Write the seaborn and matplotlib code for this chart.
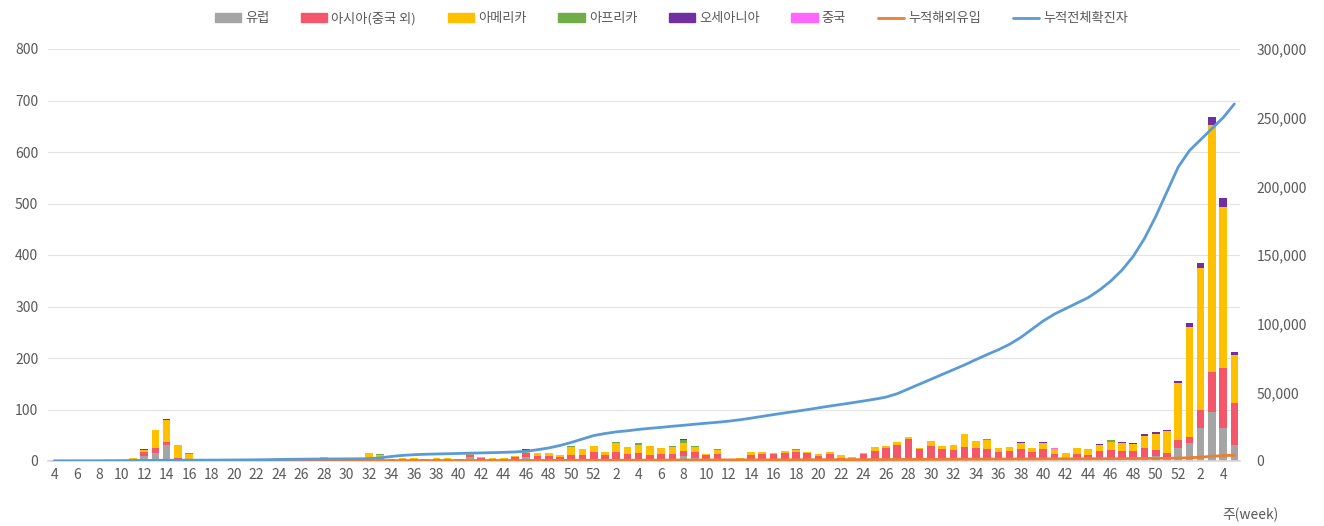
import numpy as np
import pandas as pd
import matplotlib
matplotlib.use("Agg")
import matplotlib.pyplot as plt
import seaborn as sns
from matplotlib.patches import Patch
from matplotlib.lines import Line2D
from matplotlib.ticker import FuncFormatter

# 주차 (2020년 4주 ~ 2022년 5주)
weeks = list(range(4, 53)) + list(range(1, 53)) + list(range(1, 6))

# 주별 해외유입 (지역별)
europe = [
    0, 0, 0, 0, 0, 1, 1, 3, 10, 15, 31, 4, 1, 0, 1, 0, 0, 1, 0, 0, 1, 1, 1, 1, 2,
    1, 1, 1, 2, 5, 1, 1, 1, 1, 1, 1, 1, 8, 2, 1, 1, 2, 8, 3, 2, 1, 3, 2, 2,
    1, 3, 2, 2, 2, 2, 3, 9, 5, 1, 2, 0, 0, 2, 1, 1, 2, 3, 1, 1, 2, 1, 1, 1, 1, 1,
    2, 2, 1, 2, 1, 2, 3, 3, 5, 2, 3, 4, 2, 5, 2, 1, 2, 1, 3, 6, 5, 4, 6, 10, 8, 25,
    35, 64, 95, 64, 31,
]
asia = [
    0, 0, 0, 0, 0, 0, 0, 1, 8, 11, 5, 2, 1, 0, 0, 0, 1, 1, 1, 1, 1, 1, 1, 1, 2,
    1, 2, 1, 2, 2, 2, 2, 3, 2, 2, 2, 2, 4, 3, 3, 2, 5, 7, 6, 7, 6, 8, 9, 15,
    10, 14, 12, 14, 10, 12, 10, 10, 12, 10, 12, 2, 3, 10, 12, 12, 14, 15, 14, 8, 12, 4, 3, 12, 18, 24,
    30, 40, 22, 27, 22, 20, 25, 22, 18, 15, 16, 20, 16, 18, 12, 4, 12, 10, 16, 16, 14, 15, 20, 12, 8, 16,
    12, 35, 78, 117, 82,
]
america = [
    0, 0, 0, 0, 0, 0, 0, 1, 4, 34, 43, 25, 12, 1, 1, 1, 0, 2, 2, 0, 0, 1, 1, 1, 3,
    1, 1, 1, 12, 4, 1, 2, 2, 1, 2, 2, 1, 3, 3, 2, 3, 3, 5, 6, 7, 5, 17, 12, 12,
    7, 17, 14, 16, 18, 12, 15, 15, 10, 2, 8, 2, 3, 5, 5, 2, 3, 4, 3, 4, 4, 7, 4, 3, 9, 4,
    4, 4, 3, 10, 6, 10, 24, 14, 17, 8, 8, 10, 7, 11, 10, 10, 12, 12, 13, 15, 15, 14, 23, 31, 43, 110,
    213, 276, 479, 312, 93,
]
africa = [
    0, 0, 0, 0, 0, 0, 0, 0, 0, 0, 0, 1, 2, 0, 0, 0, 0, 0, 0, 0, 0, 0, 0, 0, 1,
    0, 0, 0, 0, 2, 0, 0, 0, 0, 0, 0, 0, 0, 0, 0, 0, 0, 0, 0, 0, 0, 1, 0, 1,
    0, 2, 0, 2, 0, 0, 1, 6, 3, 0, 1, 0, 0, 0, 0, 0, 0, 1, 0, 0, 0, 0, 0, 0, 0, 0,
    0, 0, 0, 0, 0, 0, 0, 0, 3, 0, 0, 0, 0, 0, 0, 0, 0, 0, 0, 3, 0, 0, 0, 0, 0, 0,
    0, 0, 0, 0, 0,
]
oceania = [
    0, 0, 0, 0, 0, 0, 0, 0, 1, 0, 2, 0, 0, 0, 0, 0, 0, 0, 0, 0, 0, 0, 0, 0, 0,
    0, 0, 0, 0, 0, 0, 0, 0, 0, 0, 0, 0, 2, 0, 0, 0, 0, 4, 0, 0, 0, 0, 0, 0,
    0, 0, 0, 0, 0, 0, 0, 3, 0, 0, 0, 0, 0, 0, 0, 0, 0, 0, 0, 0, 0, 0, 0, 0, 0, 0,
    0, 0, 0, 0, 0, 0, 0, 0, 0, 0, 1, 2, 1, 2, 0, 0, 0, 0, 1, 1, 2, 1, 3, 3, 1, 4,
    8, 9, 16, 18, 6,
]
china = [
    1, 1, 0, 0, 0, 0, 0, 0, 0, 0, 0, 0, 0, 0, 0, 0, 0, 0, 0, 0, 0, 0, 0, 0, 0,
    0, 0, 0, 0, 0, 0, 0, 0, 0, 0, 0, 0, 0, 0, 0, 0, 0, 0, 0, 0, 0, 0, 0, 0,
    0, 0, 0, 0, 0, 0, 0, 0, 0, 0, 0, 0, 0, 0, 0, 0, 0, 0, 0, 0, 0, 0, 0, 0, 0, 0,
    0, 0, 0, 0, 0, 0, 0, 0, 0, 0, 0, 0, 0, 0, 2, 0, 0, 0, 0, 0, 0, 0, 0, 0, 0, 0,
    0, 0, 0, 0, 0,
]

# 누적 (오른쪽 축)
cum_import = [
    1, 2, 2, 2, 2, 3, 4, 9, 32, 92, 173, 205, 221, 222, 224, 225, 226, 230, 233, 234,
    236, 239, 242, 245, 253, 256, 260, 263, 279, 292, 296, 301, 307, 311, 316, 321, 325,
    342, 350, 356, 362, 372, 396, 411, 427, 439, 468, 491, 521,
    540, 560, 590, 620, 650, 680, 710, 750, 780, 790, 815, 820, 825, 840, 860, 875, 895,
    920, 935, 950, 970, 980, 990, 1000, 1030, 1060, 1095, 1140, 1165, 1205, 1235, 1265,
    1320, 1355, 1400, 1425, 1450, 1490, 1515, 1550, 1580, 1595, 1620, 1640, 1675, 1715,
    1750, 1785, 1840, 1895, 1955, 2110,
    2380, 2760, 3430, 3940, 4150,
]
cum_total = [
    1, 7, 13, 14, 40, 90, 190, 270, 340, 450, 560, 610, 625, 630, 640, 700, 750, 800,
    880, 980, 1150, 1250, 1330, 1400, 1450, 1500, 1560, 1610, 1700, 2300, 3300, 4100,
    4600, 4900, 5100, 5300, 5500, 5700, 5900, 6100, 6300, 6600, 7100, 8200, 9500,
    11300, 13500, 16000, 18500,
    20000, 21200, 22000, 23000, 23800, 24500, 25300, 26000, 26800, 27500, 28200, 29000,
    30000, 31200, 32500, 33800, 35000, 36200, 37400, 38700, 40000, 41200, 42400, 43700,
    45000, 46500, 49000, 52500, 56000, 59500, 63000, 66500, 70000, 73800, 77500, 81000,
    85000, 90000, 96000, 102000, 107000, 111000, 115000, 119000, 124500, 131000, 139000,
    149000, 162000, 178000, 196000, 214000,
    226000, 234000, 242000, 250000, 260000,
]

names = ["유럽", "아시아(중국 외)", "아메리카", "아프리카", "오세아니아", "중국"]
colors = ["#a5a5a5", "#f4566a", "#ffc000", "#70ad47", "#7030a0", "#ff66ff"]
line_names = ["누적해외유입", "누적전체확진자"]
line_colors = ["#ed7d31", "#5b9bd5"]

sns.set_theme(style="white")
plt.rcParams['font.family'] = ['Noto Sans CJK KR', 'DejaVu Sans']
txt = "#595959"

df = pd.DataFrame({"idx": np.arange(len(weeks)), "유럽": europe, "아시아(중국 외)": asia,
                   "아메리카": america, "아프리카": africa, "오세아니아": oceania, "중국": china,
                   "cum_import": cum_import, "cum_total": cum_total})

fig = plt.figure(figsize=(13.24, 5.26), dpi=100)
ax = fig.add_axes([48 / 1324, 1 - 461 / 526, 1192 / 1324, 412 / 526])

# 누적 높이를 위에서부터 겹쳐 그려 누적막대처럼 보이게 함
for k in range(len(names) - 1, -1, -1):
    df["_top"] = df[names[:k + 1]].sum(axis=1)
    sns.barplot(data=df, x="idx", y="_top", color=colors[k], width=0.68, saturation=1,
                errorbar=None, linewidth=0, ax=ax)

ax.set_xlim(-0.55, len(weeks) - 0.5)
ax.set_ylim(0, 800)
ax.set_yticks(range(0, 801, 100))
ax.set_xticks(range(0, len(weeks), 2))
ax.set_xticklabels([str(w) for w in weeks[::2]])
ax.set_xlabel("")
ax.set_ylabel("")
ax.yaxis.grid(True, color="#e4e4e4", lw=0.8)
ax.set_axisbelow(True)
ax.tick_params(axis="both", length=0, labelsize=10, colors=txt)
ax.tick_params(axis="y", pad=7)
ax.tick_params(axis="x", pad=5)
for s in ax.spines.values():
    s.set_visible(False)
ax.spines["bottom"].set_visible(True)
ax.spines["bottom"].set_color("#d9d9d9")

ax2 = ax.twinx()
sns.lineplot(data=df, x="idx", y="cum_import", color=line_colors[0], lw=2, ax=ax2)
sns.lineplot(data=df, x="idx", y="cum_total", color=line_colors[1], lw=2, ax=ax2)
ax2.set_ylim(0, 300000)
ax2.set_yticks(range(0, 300001, 50000))
ax2.yaxis.set_major_formatter(FuncFormatter(lambda v, p: f"{int(v):,}"))
ax2.set_ylabel("")
ax2.tick_params(axis="y", length=0, labelsize=10, colors=txt, pad=12)
for s in ax2.spines.values():
    s.set_visible(False)

handles = [Patch(color=c) for c in colors] + [Line2D([], [], color=c, lw=2) for c in line_colors]
fig.legend(handles, names + line_names, loc="center", bbox_to_anchor=(0.507, 0.965), ncol=8,
           frameon=False, fontsize=9.5, handlelength=2.0, handleheight=0.6,
           columnspacing=2.4, handletextpad=0.3, labelcolor=txt)

fig.text(1250 / 1324, 1 - 515 / 526, "주(week)", ha="center", va="center", fontsize=10, color=txt)

fig.savefig("out.png", dpi=100)
